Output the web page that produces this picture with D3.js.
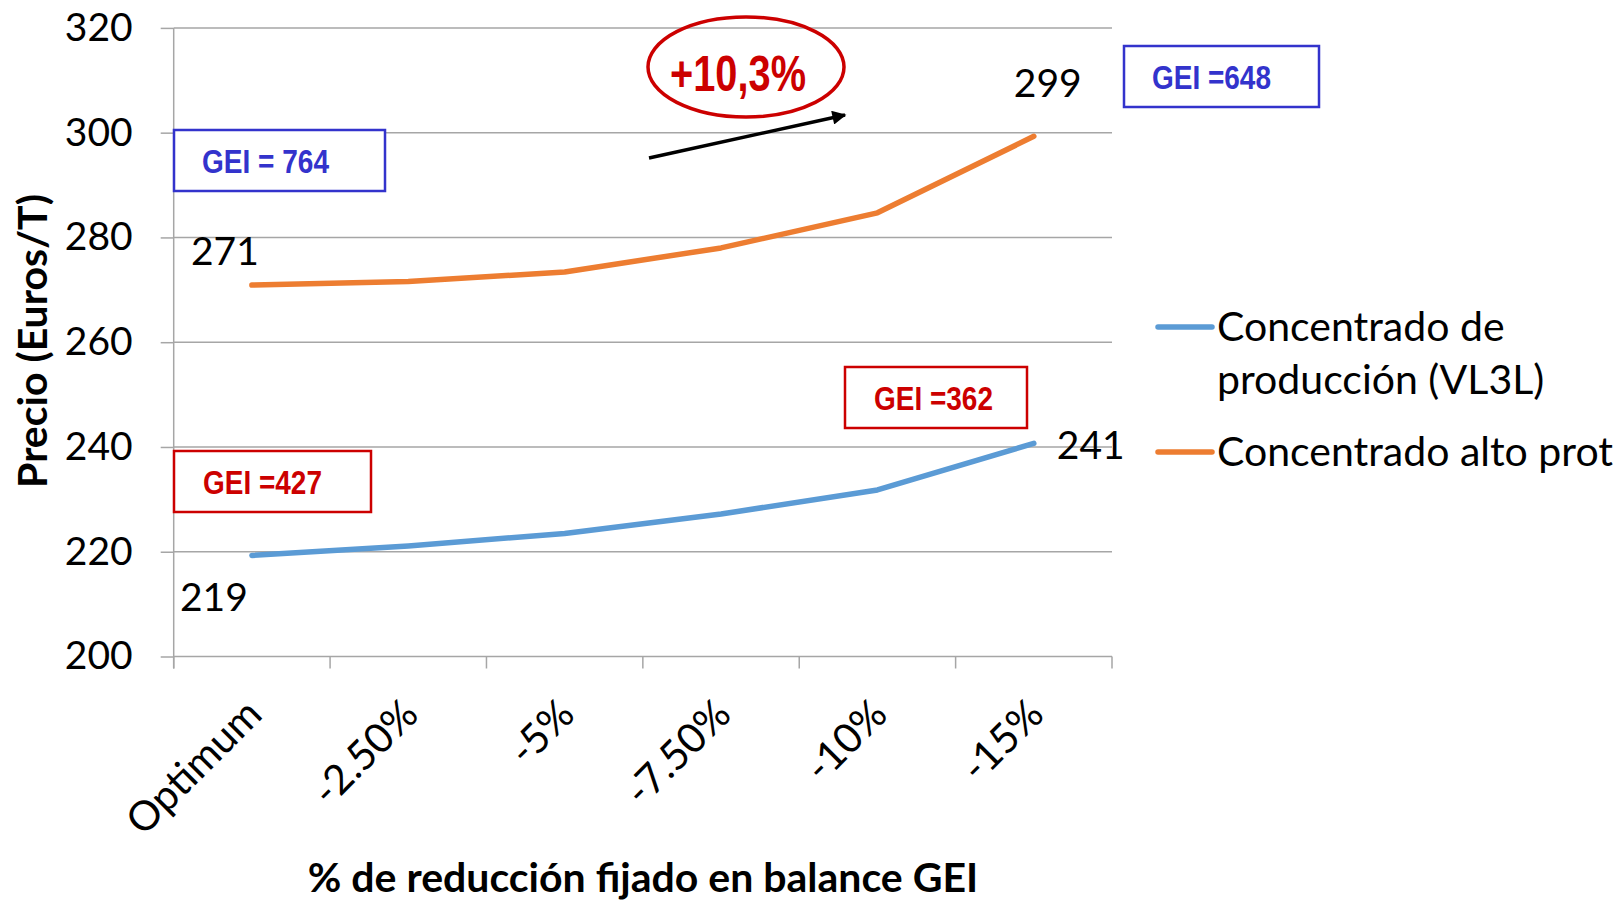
<!DOCTYPE html>
<html>
<head>
<meta charset="utf-8">
<script src="https://cdn.jsdelivr.net/npm/d3@7"></script>
<style>
  body { margin: 0; background: #fff; }
  svg { display: block; font-family: Lato, "Open Sans", sans-serif; }
</style>
</head>
<body>
<svg id="chart" width="1621" height="900"></svg>
<script>
// categories on the x axis
const categories = ["Optimum", "-2.50%", "-5%", "-7.50%", "-10%", "-15%"];
// series values (Euros/T)
const produccion = [219.3, 221.1, 223.5, 227.2, 231.8, 240.7];
const altoProt = [270.9, 271.6, 273.4, 278.0, 284.7, 299.3];
const seriesNames = ["Concentrado de producción (VL3L)", "Concentrado alto prot"];
const yTicks = [200, 220, 240, 260, 280, 300, 320];

const svg = d3.select("#chart");
const plot = { left: 173.7, right: 1112, top: 27.9, bottom: 656.5 };
const gridColor = "#a6a6a6";
const blue = "#5b9bd5", orange = "#ed7d31";
const red = "#cc0000", navy = "#3333cc";

const x = d3.scaleBand().domain(categories).range([plot.left, plot.right]);
const y = d3.scaleLinear().domain([200, 320]).range([plot.bottom, plot.top]);
const cx = c => x(c) + x.bandwidth() / 2;

// gridlines
svg.append("g").selectAll("line")
    .data(yTicks)
    .enter().append("line")
    .attr("x1", plot.left).attr("x2", plot.right)
    .attr("y1", d => y(d)).attr("y2", d => y(d))
    .attr("stroke", gridColor).attr("stroke-width", 1.5);

// y axis
const yAxis = svg.append("g")
    .attr("transform", `translate(${plot.left},0)`)
    .call(d3.axisLeft(y).tickValues(yTicks).tickSize(13).tickPadding(28));
yAxis.select(".domain").remove();
yAxis.selectAll(".tick line").attr("stroke", gridColor).attr("stroke-width", 1.5);
yAxis.selectAll(".tick text")
    .attr("font-family", "Lato, sans-serif")
    .attr("font-size", 39)
    .attr("fill", "#000");

svg.append("line")
    .attr("x1", plot.left).attr("x2", plot.left)
    .attr("y1", plot.top).attr("y2", plot.bottom + 12)
    .attr("stroke", gridColor).attr("stroke-width", 1.5);

// x axis ticks at band edges
const edges = categories.map(c => x(c)).concat([plot.right]);
svg.append("g").selectAll("line")
    .data(edges)
    .enter().append("line")
    .attr("x1", d => d).attr("x2", d => d)
    .attr("y1", plot.bottom).attr("y2", plot.bottom + 12)
    .attr("stroke", gridColor).attr("stroke-width", 1.5);

svg.append("g").selectAll("text")
    .data(categories)
    .enter().append("text")
    .attr("transform", d => `translate(${cx(d) + 2},${plot.bottom + 50}) rotate(-45)`)
    .attr("text-anchor", "end")
    .attr("dy", "0.35em")
    .attr("font-size", 41)
    .text(d => d);

// series lines
const line = d3.line()
    .x((d, i) => cx(categories[i]))
    .y(d => y(d));

[[produccion, blue], [altoProt, orange]].forEach(([vals, col]) => {
    svg.append("path")
        .attr("d", line(vals))
        .attr("fill", "none")
        .attr("stroke", col)
        .attr("stroke-width", 5.5)
        .attr("stroke-linecap", "round")
        .attr("stroke-linejoin", "round");
});

// data labels (first and last point of each series)
const dataLabels = [
    { vals: altoProt, i: 0, dx: -27, dy: -20 },
    { vals: altoProt, i: 5, dx: 14, dy: -39 },
    { vals: produccion, i: 0, dx: -38, dy: 56 },
    { vals: produccion, i: 5, dx: 57, dy: 16 }
];
svg.append("g").selectAll("text")
    .data(dataLabels)
    .enter().append("text")
    .attr("x", d => cx(categories[d.i]) + d.dx)
    .attr("y", d => y(d.vals[d.i]) + d.dy)
    .attr("text-anchor", "middle")
    .attr("font-size", 39)
    .text(d => Math.round(d.vals[d.i]));

// axis titles
svg.append("text")
    .attr("transform", "translate(33,341) rotate(-90)")
    .attr("text-anchor", "middle")
    .attr("dy", "0.35em")
    .attr("font-size", 41)
    .attr("font-weight", "bold")
    .text("Precio (Euros/T)");

svg.append("text")
    .attr("x", 643).attr("y", 892)
    .attr("text-anchor", "middle")
    .attr("font-size", 41)
    .attr("font-weight", "bold")
    .text("% de reducción fijado en balance GEI");

// legend
const legend = svg.append("g");
legend.append("line")
    .attr("x1", 1158).attr("x2", 1212).attr("y1", 327).attr("y2", 327)
    .attr("stroke", blue).attr("stroke-width", 5.5).attr("stroke-linecap", "round");
legend.append("text").attr("x", 1217).attr("y", 341).attr("font-size", 41).text("Concentrado de");
legend.append("text").attr("x", 1217).attr("y", 394).attr("font-size", 41).text("producción (VL3L)");
legend.append("line")
    .attr("x1", 1158).attr("x2", 1212).attr("y1", 452).attr("y2", 452)
    .attr("stroke", orange).attr("stroke-width", 5.5).attr("stroke-linecap", "round");
legend.append("text").attr("x", 1217).attr("y", 466).attr("font-size", 41).text(seriesNames[1]);

// GEI annotation boxes
const geiBoxes = [
    { text: "GEI = 764", color: navy, x: 174, y: 130, w: 211, h: 61, tx: 202, tl: 127 },
    { text: "GEI =648", color: navy, x: 1124, y: 46, w: 195, h: 61, tx: 1152, tl: 119 },
    { text: "GEI =427", color: red, x: 174, y: 451, w: 197, h: 61, tx: 203, tl: 119 },
    { text: "GEI =362", color: red, x: 845, y: 367, w: 182, h: 61, tx: 874, tl: 119 }
];
const boxes = svg.append("g").selectAll("g")
    .data(geiBoxes)
    .enter().append("g");
boxes.append("rect")
    .attr("x", d => d.x).attr("y", d => d.y)
    .attr("width", d => d.w).attr("height", d => d.h)
    .attr("fill", "#fff").attr("stroke", d => d.color).attr("stroke-width", 2.5);
boxes.append("text")
    .attr("x", d => d.tx).attr("y", d => d.y + d.h / 2 + 12.5)
    .attr("font-family", "'Liberation Sans', Arial, sans-serif")
    .attr("font-weight", "bold")
    .attr("font-size", 33)
    .attr("textLength", d => d.tl)
    .attr("lengthAdjust", "spacingAndGlyphs")
    .attr("fill", d => d.color)
    .text(d => d.text);

// +10,3% callout
svg.append("ellipse")
    .attr("cx", 746).attr("cy", 67).attr("rx", 98).attr("ry", 50)
    .attr("fill", "none").attr("stroke", red).attr("stroke-width", 3.5);
svg.append("text")
    .attr("x", 670).attr("y", 91)
    .attr("font-family", "'Liberation Sans', Arial, sans-serif")
    .attr("font-weight", "bold")
    .attr("font-size", 50)
    .attr("textLength", 136)
    .attr("lengthAdjust", "spacingAndGlyphs")
    .attr("fill", red)
    .text("+10,3%");

svg.append("defs").append("marker")
    .attr("id", "arrowhead")
    .attr("viewBox", "0 -5 10 10")
    .attr("refX", 9)
    .attr("refY", 0)
    .attr("markerWidth", 5)
    .attr("markerHeight", 4)
    .attr("orient", "auto")
    .append("path")
    .attr("d", "M0,-5L10,0L0,5Z")
    .attr("fill", "#000");

svg.append("line")
    .attr("x1", 649).attr("y1", 158).attr("x2", 845).attr("y2", 115)
    .attr("stroke", "#000").attr("stroke-width", 3.5)
    .attr("marker-end", "url(#arrowhead)");
</script>
</body>
</html>
